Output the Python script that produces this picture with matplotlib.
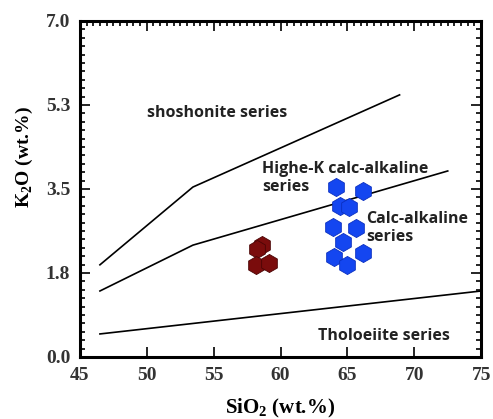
import matplotlib
matplotlib.use("Agg")
import matplotlib.pyplot as plt
from matplotlib.ticker import MultipleLocator

plt.rcParams['mathtext.fontset'] = 'custom'
plt.rcParams['mathtext.rm'] = 'Liberation Serif:bold'
plt.rcParams['mathtext.bf'] = 'Liberation Serif:bold'

# boundary lines (SiO2, K2O)
shosh_x = [46.5, 53.45, 68.9]
shosh_y = [1.92, 3.54, 5.46]
highk_x = [46.5, 53.45, 72.5]
highk_y = [1.375, 2.33, 3.875]
thol_x = [46.5, 75.0]
thol_y = [0.48, 1.375]

# samples
blue_sio2 = [64.15, 66.17, 64.45, 65.12, 63.93, 65.65, 64.68, 64.0, 66.17, 64.97]
blue_k2o = [3.54, 3.46, 3.15, 3.125, 2.71, 2.69, 2.40, 2.08, 2.17, 1.92]
red_sio2 = [58.62, 58.24, 58.17, 59.14]
red_k2o = [2.33, 2.25, 1.92, 1.96]

xticks = [45, 50, 55, 60, 65, 70, 75]
yticks = [0, 1.75, 3.5, 5.25, 7.0]
ytick_labels = ['0.0', '1.8', '3.5', '5.3', '7.0']

fig = plt.figure(figsize=(4.93, 4.19), dpi=100)
ax = fig.add_axes([0.162, 0.148, 0.814, 0.802])

for xs, ys in [(shosh_x, shosh_y), (highk_x, highk_y), (thol_x, thol_y)]:
    ax.plot(xs, ys, color='black', lw=1.2)

ax.scatter(blue_sio2, blue_k2o, marker='h', s=170, color='#1446f0',
           edgecolors='#0a2fc0', linewidths=0.6, zorder=3)
ax.scatter(red_sio2, red_k2o, marker='h', s=170, color='#7a0c0c',
           edgecolors='#4a0505', linewidths=0.6, zorder=3)

tfont = dict(family='Open Sans', fontweight='bold', fontsize=11.5, color='#222222')
ax.text(50.0, 5.08, 'shoshonite series', va='center', **tfont)
ax.text(58.6, 3.73, 'Highe-K calc-alkaline\nseries', va='center', linespacing=1.15, **tfont)
ax.text(66.4, 2.69, 'Calc-alkaline\nseries', va='center', linespacing=1.15, **tfont)
ax.text(62.8, 0.44, 'Tholoeiite series', va='center', **tfont)

ax.set_xlim(45, 75)
ax.set_ylim(0, 7)
ax.set_xticks(xticks)
ax.set_yticks(yticks)
ax.set_yticklabels(ytick_labels)
ax.xaxis.set_minor_locator(MultipleLocator(0.5))
ax.yaxis.set_minor_locator(MultipleLocator(0.175))

ax.tick_params(which='both', direction='in', top=True, right=True,
               color='black', width=1.2)
ax.tick_params(which='major', length=7, pad=7)
ax.tick_params(which='minor', length=3.5, bottom=False)
for sp in ax.spines.values():
    sp.set_linewidth(2.2)

lfont = dict(family='Liberation Serif', fontweight='bold')
for lab in ax.get_xticklabels() + ax.get_yticklabels():
    lab.set_fontfamily('Liberation Serif')
    lab.set_fontweight('bold')
    lab.set_fontsize(14)
    lab.set_color('#333333')

ax.set_xlabel('SiO$_2$ (wt.%)', fontsize=15, **lfont)
ax.set_ylabel('K$_2$O (wt.%)', fontsize=14, **lfont)
ax.xaxis.set_label_coords(0.5, -0.118)
ax.yaxis.set_label_coords(-0.113, 0.595)

fig.savefig('out.png', dpi=100)
